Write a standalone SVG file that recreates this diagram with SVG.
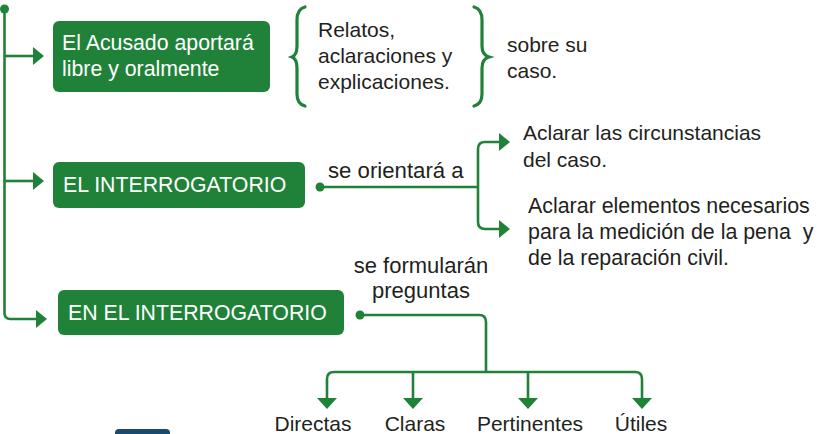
<svg xmlns="http://www.w3.org/2000/svg" width="818" height="434" viewBox="0 0 818 434">
<defs>
<style>
.box{fill:#208239;}
.wt{fill:#ffffff;font-family:"Liberation Sans",Arial,sans-serif;font-size:21.3px;}
.bt{fill:#231f20;font-family:"Liberation Sans",Arial,sans-serif;font-size:21px;white-space:pre;}
.ln{fill:none;stroke:#208239;stroke-width:2.6;stroke-linejoin:round;}
.br{fill:none;stroke:#208239;stroke-width:3.2;stroke-linecap:round;}
.ah{fill:#208239;}
</style>
</defs>
<rect width="818" height="434" fill="#ffffff"/>
<g id="connectors">
<circle cx="4.5" cy="9" r="4.5" class="ah"/>
<path class="ln" d="M4.5 9 V313 Q4.5 319 10.5 319 H37"/>
<path class="ln" d="M4.5 56 H35"/>
<path class="ln" d="M4.5 181 H35"/>
<polygon class="ah" points="33,47 44,56 33,65"/>
<polygon class="ah" points="33,172 44,181 33,190"/>
<polygon class="ah" points="36,310 47,319 36,328"/>
<circle cx="320" cy="187" r="4.5" class="ah"/>
<path class="ln" d="M320 187 H478"/>
<path class="ln" d="M502 142 H485 Q478 142 478 149 V222 Q478 229 485 229 H502"/>
<polygon class="ah" points="499,133 510,142 499,151"/>
<polygon class="ah" points="499,220 510,229 499,238"/>
<circle cx="360" cy="315" r="4.5" class="ah"/>
<path class="ln" d="M360 315 H479 Q486 315 486 322 V372"/>
<path class="ln" d="M327 400 V379 Q327 372 334 372 H635 Q642 372 642 379 V400"/>
<path class="ln" d="M413 372 V400"/>
<path class="ln" d="M528 372 V400"/>
<polygon class="ah" points="317,398 337,398 327,409"/>
<polygon class="ah" points="403,398 423,398 413,409"/>
<polygon class="ah" points="518,398 538,398 528,409"/>
<polygon class="ah" points="632,398 652,398 642,409"/>
</g>
<g id="node-acusado">
<rect class="box" x="53" y="21" width="217" height="71" rx="6"/>
<text class="wt" x="62" y="50">El Acusado aportará</text>
<text class="wt" x="62" y="76">libre y oralmente</text>
</g>
<g id="node-relatos">
<path class="br" d="M305 7 Q297 9 297 20 V46 Q297 55 292 57 Q297 59 297 68 V94 Q297 104 305 106"/>
<text class="bt" x="318" y="37">Relatos,</text>
<text class="bt" x="318" y="63">aclaraciones y</text>
<text class="bt" x="318" y="89">explicaciones.</text>
<path class="br" d="M474 7 Q482 9 482 20 V46 Q482 55 489 57 Q482 59 482 68 V94 Q482 104 474 106"/>
</g>
<g id="node-sobre">
<text class="bt" x="507" y="52">sobre su</text>
<text class="bt" x="507" y="78">caso.</text>
</g>
<g id="node-interrogatorio">
<rect class="box" x="53" y="162" width="252" height="46" rx="6"/>
<text class="wt" x="63" y="192">EL INTERROGATORIO</text>
</g>
<g id="label-orientara">
<text class="bt" x="328" y="178" style="font-size:22.2px">se orientará a</text>
</g>
<g id="node-circunstancias">
<text class="bt" x="523" y="140">Aclarar las circunstancias</text>
<text class="bt" x="523" y="167">del caso.</text>
</g>
<g id="node-elementos">
<text class="bt" x="528" y="213" style="font-size:21.4px">Aclarar elementos necesarios</text>
<text class="bt" x="528" y="239" style="font-size:21.4px">para la medición de la pena  y</text>
<text class="bt" x="528" y="265" style="font-size:21.4px">de la reparación civil.</text>
</g>
<g id="node-en-interrogatorio">
<rect class="box" x="58" y="290" width="286" height="45" rx="6"/>
<text class="wt" x="68" y="320">EN EL INTERROGATORIO</text>
</g>
<g id="label-formularan">
<text class="bt" x="421" y="273" text-anchor="middle" style="font-size:22px">se formularán</text>
<text class="bt" x="421" y="298" text-anchor="middle" style="font-size:22px">preguntas</text>
</g>
<g id="node-directas"><text class="bt" x="313" y="431" text-anchor="middle">Directas</text></g>
<g id="node-claras"><text class="bt" x="415" y="431" text-anchor="middle">Claras</text></g>
<g id="node-pertinentes"><text class="bt" x="530" y="431" text-anchor="middle">Pertinentes</text></g>
<g id="node-utiles"><text class="bt" x="641" y="431" text-anchor="middle">Útiles</text></g>
<rect x="115" y="429" width="55" height="12" rx="4" fill="#1b4a6f"/>
</svg>
